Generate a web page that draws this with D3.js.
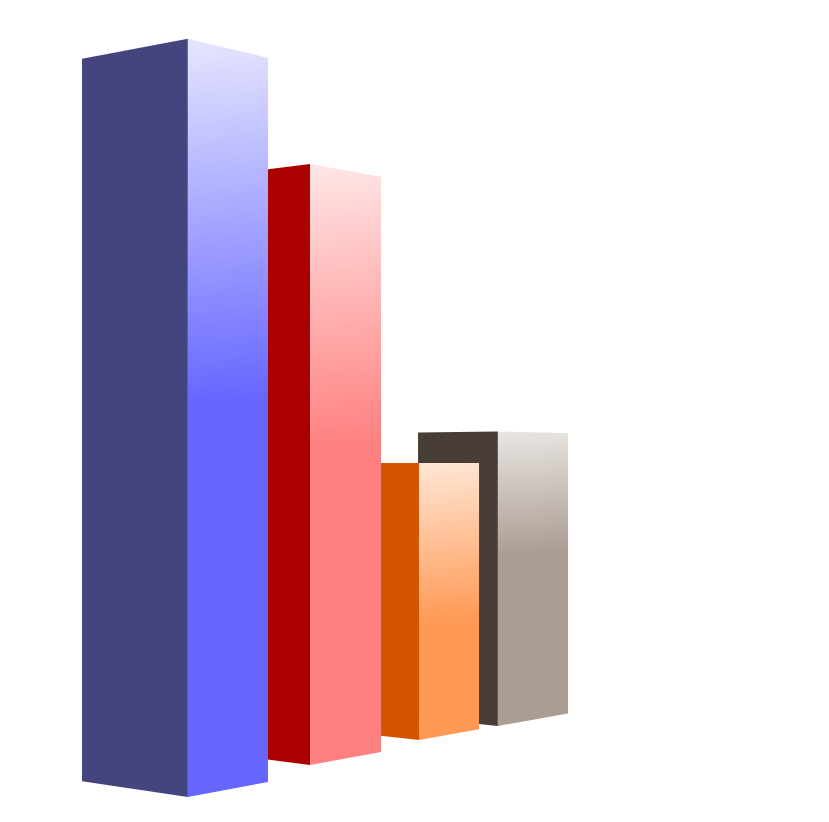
<!DOCTYPE html>
<html>
<head>
<meta charset="utf-8">
<script src="https://d3js.org/d3.v7.min.js"></script>
<style>
  html, body { margin: 0; padding: 0; background: #fff; }
  svg { display: block; }
</style>
</head>
<body>
<svg id="chart" width="829" height="822"></svg>
<script>
// no labels in the picture, the bars only have heights
const categories = ["a", "b", "c", "d"];
const values = [227, 199, 100, 112];

// look of each bar
const sideColors = ["#44447f", "#aa0000", "#d45500", "#483e37"];
const faceColors = ["#6666ff", "#ff8080", "#ff9955", "#ac9d93"];
const topColors = ["#e6e6ff", "#ffe6e6", "#ffe6d5", "#e9e6e3"];
const fadeStops = [0.48, 0.47, 0.58, 0.42];

// near corner on the floor [x, z], and footprint of the bar, in eye heights
const nearCorners = [[-0.677, 5.883], [-0.344, 6.507], [0.018, 7.094], [0.319, 7.471]];
const sideWidths = [0.4664, 0.3, 0.3, 0.3866];
const faceWidths = [0.3536, 0.3706, 0.3647, 0.477];

// camera
const cx = 414, horizon = 463, focal = 1965;
const yaw = 38.35 * Math.PI / 180;
const axisSide = [-Math.cos(yaw), Math.sin(yaw)];
const axisFace = [Math.sin(yaw), Math.cos(yaw)];

const svg = d3.select("#chart");
const defs = svg.append("defs");

const height = d3.scaleLinear().domain([0, 100]).range([0, 1]);
const corner = d3.scaleOrdinal().domain(categories).range(nearCorners);
const line = d3.line();

function project(p, h) {
  return [cx + focal * p[0] / p[1], horizon + focal * (1 - h) / p[1]];
}

function along(p, axis, t) {
  return [p[0] + axis[0] * t, p[1] + axis[1] * t];
}

function face(a, b, h) {
  return line([project(a, 0), project(a, h), project(b, h), project(b, 0)]) + "Z";
}

const bars = categories.map((c, i) => {
  const near = corner(c);
  return {
    i, near,
    h: height(values[i]),
    left: along(near, axisSide, sideWidths[i]),
    right: along(near, axisFace, faceWidths[i])
  };
});

bars.forEach(d => {
  const top = project(d.near, d.h), bottom = project(d.near, 0);
  const len = (bottom[1] - top[1]) * fadeStops[d.i];
  const grad = defs.append("linearGradient")
    .attr("id", "fade" + d.i)
    .attr("gradientUnits", "userSpaceOnUse")
    .attr("x1", top[0]).attr("y1", top[1])
    .attr("x2", top[0] + len * 0.08).attr("y2", top[1] + len);
  grad.append("stop").attr("offset", 0).attr("stop-color", topColors[d.i]);
  grad.append("stop").attr("offset", 1).attr("stop-color", faceColors[d.i]);
});

// far bars first so the near ones cover them
const g = svg.selectAll("g.bar")
  .data(bars.slice().reverse())
  .join("g")
  .attr("class", "bar");

g.append("path")
  .attr("d", d => face(d.left, d.near, d.h))
  .attr("fill", d => sideColors[d.i]);

g.append("path")
  .attr("d", d => face(d.near, d.right, d.h))
  .attr("fill", d => `url(#fade${d.i})`);
</script>
</body>
</html>
